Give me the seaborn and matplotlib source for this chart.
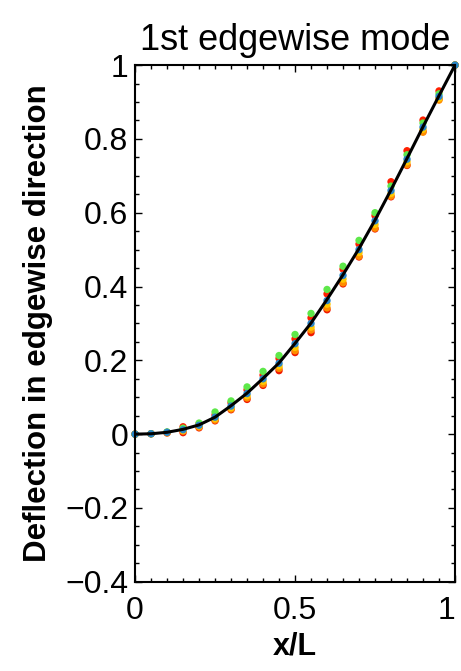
import numpy as np
import pandas as pd
import matplotlib
matplotlib.use("Agg")
import matplotlib.pyplot as plt
import seaborn as sns
from matplotlib.ticker import MultipleLocator

# stations along the blade
x_stations = [0.0, 0.05, 0.1, 0.15, 0.2, 0.25, 0.3, 0.35, 0.4, 0.45, 0.5,
              0.55, 0.6, 0.65, 0.7, 0.75, 0.8, 0.85, 0.9, 0.95, 1.0]

# reference mode shape (black line)
ref_curve = [0.0, 0.001, 0.005, 0.013, 0.025, 0.046, 0.077, 0.111, 0.151, 0.193, 0.246,
             0.301, 0.365, 0.432, 0.503, 0.580, 0.662, 0.747, 0.833, 0.917, 1.0]

# individual results (coloured dots)
green_vals = [0.0, 0.001, 0.006, 0.016, 0.030, 0.060, 0.090, 0.128, 0.170, 0.213, 0.270,
              0.327, 0.392, 0.455, 0.525, 0.600, 0.672, 0.757, 0.843, 0.922, 1.0]
red1_vals = [0.0, 0.001, 0.005, 0.020, 0.028, 0.052, 0.085, 0.120, 0.160, 0.205, 0.258,
             0.315, 0.380, 0.447, 0.515, 0.592, 0.684, 0.768, 0.851, 0.930, 1.0]
blue_vals = [0.0, 0.001, 0.005, 0.012, 0.024, 0.046, 0.076, 0.110, 0.150, 0.192, 0.245,
             0.300, 0.362, 0.430, 0.500, 0.578, 0.660, 0.745, 0.832, 0.915, 1.0]
yellow_vals = [0.0, 0.001, 0.004, 0.010, 0.022, 0.042, 0.072, 0.104, 0.143, 0.185, 0.235,
               0.290, 0.352, 0.420, 0.492, 0.568, 0.652, 0.738, 0.826, 0.910, 1.0]
orange_vals = [0.0, 0.001, 0.004, 0.008, 0.019, 0.038, 0.068, 0.098, 0.136, 0.178, 0.226,
               0.282, 0.342, 0.410, 0.482, 0.558, 0.645, 0.730, 0.818, 0.905, 1.0]
red2_vals = [0.0, 0.001, 0.003, 0.004, 0.017, 0.036, 0.066, 0.094, 0.132, 0.172, 0.221,
             0.275, 0.337, 0.407, 0.480, 0.556, 0.643, 0.728, 0.820, 0.908, 1.0]

x_ticks = [0, 0.5, 1]
x_ticklabels = ["0", "0.5", "1"]
y_ticks = [-0.4, -0.2, 0, 0.2, 0.4, 0.6, 0.8, 1]
y_ticklabels = ["\u22120.4", "\u22120.2", "0", "0.2", "0.4", "0.6", "0.8", "1"]

series = {
    "red2": red2_vals,
    "orange": orange_vals,
    "yellow": yellow_vals,
    "red1": red1_vals,
    "green": green_vals,
    "blue": blue_vals,
}
palette = {
    "red2": "#f01a00",
    "orange": "#ff8c00",
    "yellow": "#ffc800",
    "red1": "#ff2000",
    "green": "#5ee84a",
    "blue": "#2a86c8",
}

df = pd.concat([pd.DataFrame({"x": x_stations, "y": v, "model": k})
                for k, v in series.items()], ignore_index=True)
ref = pd.DataFrame({"x": x_stations, "y": ref_curve})

sns.set_style("ticks")
plt.rcParams["font.family"] = ["Liberation Sans", "DejaVu Sans"]
plt.rcParams["text.color"] = "black"

fig = plt.figure(figsize=(4.61, 6.71), dpi=100)
ax = fig.add_axes([0.293, 0.133, 0.694, 0.770])

sns.scatterplot(data=df, x="x", y="y", hue="model", palette=palette, s=28,
                edgecolor="none", legend=False, ax=ax, zorder=2, clip_on=False)
sns.lineplot(data=ref, x="x", y="y", color="black", linewidth=2.2, ax=ax, zorder=3)

ax.set_xlim(0, 1)
ax.set_ylim(-0.4, 1)
ax.set_xticks(x_ticks)
ax.set_xticklabels(x_ticklabels)
ax.set_yticks(y_ticks)
ax.set_yticklabels(y_ticklabels)
ax.xaxis.set_minor_locator(MultipleLocator(0.05))
ax.yaxis.set_minor_locator(MultipleLocator(0.05))

ax.tick_params(which="both", direction="in", top=True, right=True, colors="black",
               labelcolor="black", labelsize=23, width=1)
ax.tick_params(which="major", length=5)
ax.tick_params(axis="x", which="major", pad=10)
ax.tick_params(axis="y", which="major", pad=5)
ax.tick_params(which="minor", length=3)
# last x label hugs the right edge like the original
ax.get_xticklabels()[-1].set_horizontalalignment("right")
for sp in ax.spines.values():
    sp.set_linewidth(1.5)
    sp.set_color("black")

ax.set_title("1st edgewise mode", fontsize=26, pad=11, color="black")
ax.set_xlabel("x/L", fontsize=22, fontweight="bold", labelpad=4, color="black")
ax.set_ylabel("Deflection in edgewise direction", fontsize=22.5, fontweight="bold",
              labelpad=9, color="black")

fig.savefig("out.png", dpi=100)
